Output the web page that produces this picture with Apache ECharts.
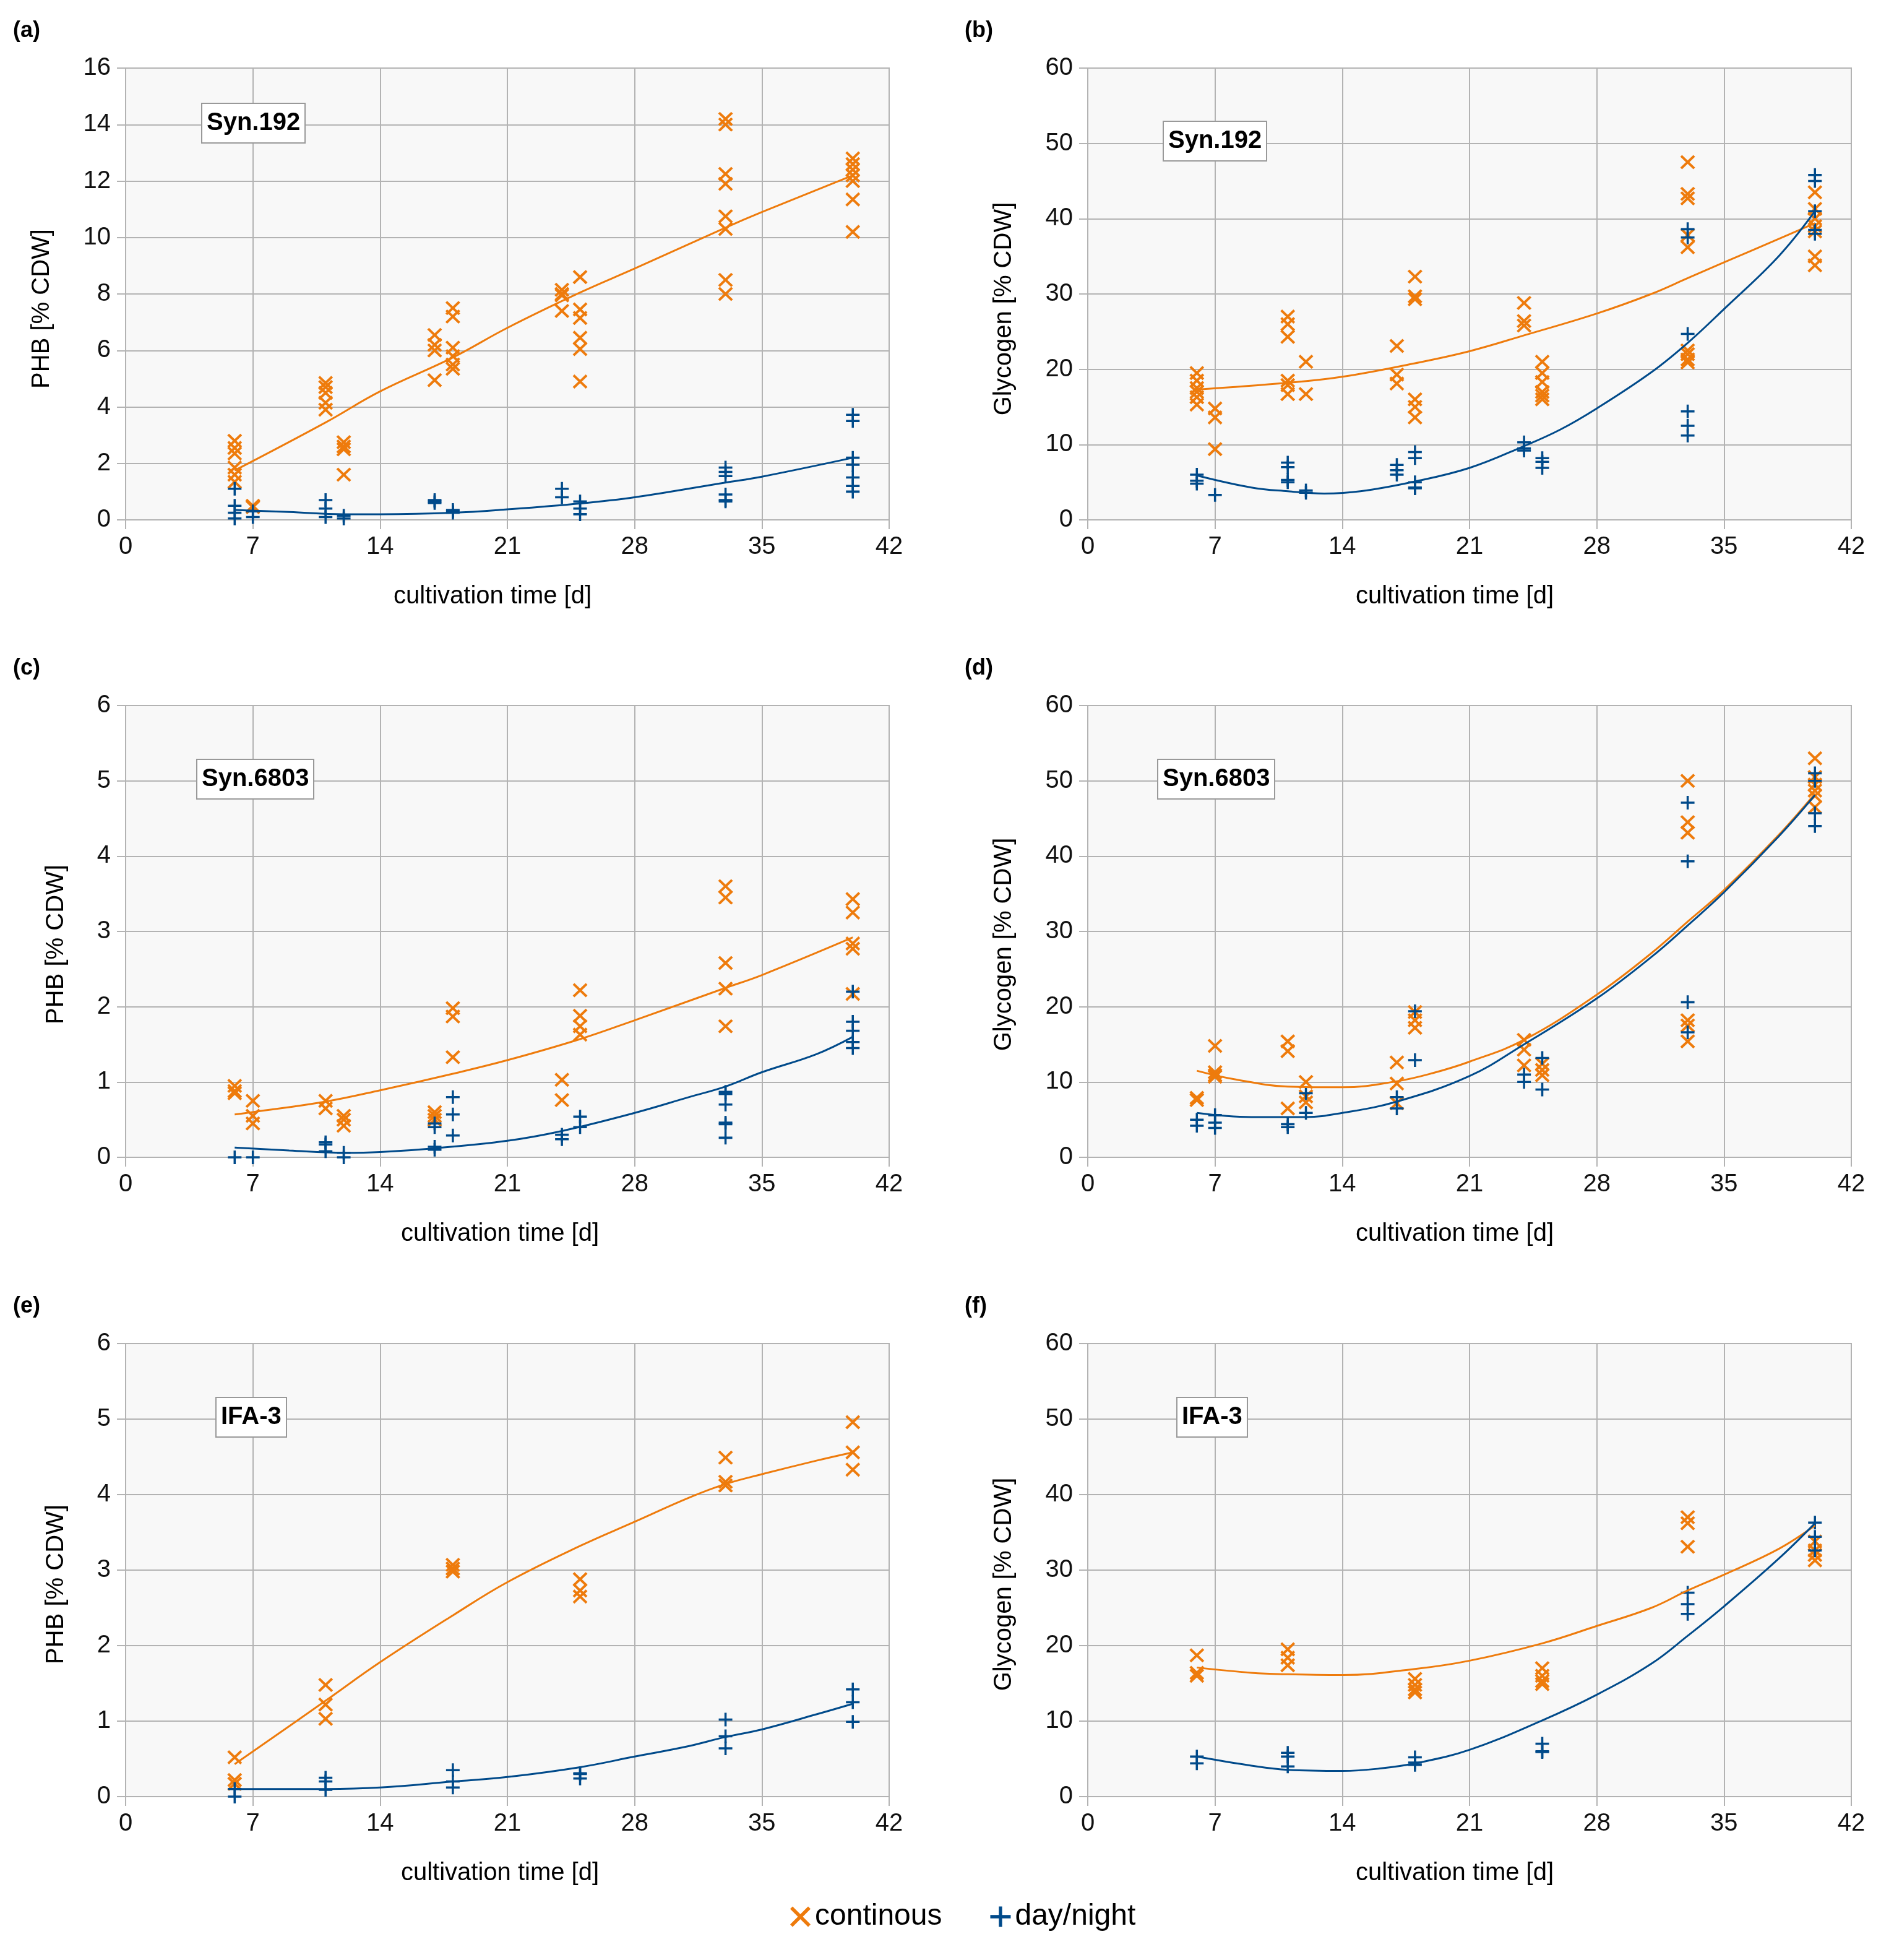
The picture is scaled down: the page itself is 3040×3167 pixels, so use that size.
<!DOCTYPE html>
<html>
<head>
<meta charset="utf-8">
<script src="https://cdn.jsdelivr.net/npm/echarts@6/dist/echarts.min.js"></script>
<style>
html,body{margin:0;padding:0;background:#fff;}
#chart{width:3040px;height:3167px;}
</style>
</head>
<body>
<div id="chart"></div>
<script>
// ---------- data ----------
const daysABCD = [6, 7, 11, 12, 17, 18, 24, 25, 33, 40];
const daysEF = [6, 11, 18, 25, 33, 40];

// (a) PHB Syn.192
const phbSyn192Cont = [[2.8,2.55,2.35,1.85,1.6,1.35],[0.5,0.45],[4.85,4.7,4.5,4.15,3.9],[2.75,2.6,2.5,1.6],[6.55,6.2,6.0,4.95],[7.5,7.2,6.1,5.8,5.5,5.35],[8.15,8.0,7.95,7.4],[8.6,7.45,7.15,6.45,6.05,4.9],[14.2,14.0,12.25,11.9,10.75,10.3,8.5,8.0],[12.8,12.6,12.4,12.2,12.0,11.35,10.2]];
const phbSyn192DN = [[1.1,0.5,0.25,0.05],[0.3,0.1],[0.7,0.4,0.1],[0.15,0.05],[0.7,0.65,0.6],[0.35,0.3,0.25],[1.1,0.8],[0.65,0.4,0.2],[1.85,1.7,1.55,0.9,0.7,0.65],[3.72,3.5,2.2,1.95,1.5,1.2,1.0]];
const trendPhbSyn192Cont = [[6,1.75],[11,3.45],[14,4.55],[18,5.75],[21,6.8],[25,8.05],[28,8.9],[33,10.35],[35,10.9],[40,12.2]];
const trendPhbSyn192DN = [[6,0.35],[9,0.28],[12,0.2],[14,0.2],[18,0.25],[21,0.37],[25,0.58],[28,0.8],[33,1.32],[35,1.53],[40,2.2]];

// (b) Glycogen Syn.192
const glySyn192Cont = [[19.5,18.5,17.5,17.0,16.3,15.3],[14.8,13.6,9.4],[27.0,26.0,24.3,18.5,17.9,16.7],[21.0,16.7],[23.1,19.3,18.1],[32.3,29.7,29.3,16.0,15.0,13.6],[28.8,26.4,25.8],[21.0,19.5,18.3,17.0,16.5,16.0],[47.5,43.3,42.7,37.8,36.2,22.5,22.0,21.3,20.9],[43.5,41.3,40.0,39.0,38.3,35.0,33.8]];
const glySyn192DN = [[6.0,5.2,4.8],[3.3],[7.6,7.0,5.3,5.0],[3.9,3.6],[7.3,6.6,6.0],[9.0,8.2,5.0,4.3,4.2],[10.3,9.5,9.2],[8.2,7.7,6.9],[38.6,37.5,24.7,14.4,12.5,11.2],[45.8,45.0,41.0,38.5,38.0]];
const trendGlySyn192Cont = [[6,17.3],[11,18.2],[14,19.0],[18,20.8],[21,22.4],[24,24.5],[28,27.4],[31,30.0],[33,32.1],[35,34.2],[38,37.3],[40,39.4]];
const trendGlySyn192DN = [[6,5.9],[9,4.3],[11,3.8],[13,3.5],[15,3.8],[18,5.1],[21,6.9],[24,9.8],[26,12.0],[28,14.8],[31,19.6],[33,23.5],[35,28.0],[38,35.0],[40,41.0]];

// (c) PHB Syn.6803
const phbSyn6803Cont = [[0.95,0.88,0.85],[0.75,0.55,0.45],[0.75,0.65],[0.55,0.5,0.42],[0.6,0.55,0.5],[1.98,1.87,1.33],[1.03,0.76],[2.22,1.88,1.74,1.63],[3.6,3.45,2.58,2.24,1.74],[3.43,3.25,2.84,2.77,2.17]];
const phbSyn6803DN = [[0.0],[0.0],[0.2,0.17,0.08],[0.06,0.0],[0.45,0.4,0.14,0.1],[0.8,0.57,0.29],[0.3,0.24],[0.54,0.4],[0.87,0.84,0.7,0.46,0.44,0.26],[2.2,1.8,1.68,1.53,1.45]];
const trendPhbSyn6803Cont = [[6,0.57],[7,0.6],[11,0.74],[14,0.89],[18,1.11],[21,1.29],[25,1.57],[28,1.82],[33,2.25],[35,2.42],[40,2.92]];
const trendPhbSyn6803DN = [[6,0.13],[9,0.09],[12,0.06],[14,0.07],[17,0.12],[21,0.22],[24,0.35],[28,0.59],[31,0.8],[33,0.94],[35,1.13],[38,1.37],[40,1.6]];

// (d) Glycogen Syn.6803
const glySyn6803Cont = [[7.9,7.6],[14.8,11.3,10.9,10.7],[15.4,14.1,6.5],[10.0,8.1,7.3],[12.6,9.8,7.2],[19.3,18.2,17.2],[15.6,14.3,12.2],[12.4,11.6,10.9],[50.0,44.5,43.1,18.2,17.5,15.4],[53.0,50.5,49.5,48.7,48.0,46.5]];
const glySyn6803DN = [[5.0,4.2],[5.6,4.6,3.9],[4.4,4.0],[8.5,5.9],[8.0,6.5],[19.4,12.9],[11.0,10.0],[13.2,9.0],[47.1,39.3,20.6,16.6],[51.0,50.0,45.7,44.0]];
const trendGlySyn6803Cont = [[6,11.5],[8,10.4],[11,9.4],[14,9.3],[17,10.1],[19,11.2],[21,12.7],[24,15.6],[28,21.6],[31,27.1],[33,31.3],[35,35.5],[38,42.8],[40,48.3]];
const trendGlySyn6803DN = [[6,5.9],[9,5.35],[12,5.35],[14,5.9],[17,7.4],[21,10.8],[24,15.0],[28,21.1],[31,26.6],[33,30.8],[35,35.2],[38,42.6],[40,48.1]];

// (e) PHB IFA-3
const phbIfaCont = [[0.52,0.22,0.17],[1.48,1.22,1.03],[3.07,3.02,2.98],[2.88,2.73,2.65],[4.49,4.17,4.12],[4.96,4.56,4.33]];
const phbIfaDN = [[0.1,0.0],[0.25,0.2,0.09],[0.35,0.2,0.12],[0.31,0.3,0.24],[1.02,0.8,0.64],[1.42,1.25,0.99]];
const trendPhbIfaCont = [[6,0.43],[11,1.27],[14,1.78],[18,2.4],[21,2.84],[25,3.32],[28,3.64],[31,3.96],[33,4.14],[35,4.27],[38,4.45],[40,4.56]];
const trendPhbIfaDN = [[6,0.1],[11,0.1],[14,0.12],[18,0.2],[21,0.26],[25,0.39],[28,0.53],[31,0.67],[33,0.79],[35,0.89],[38,1.09],[40,1.23]];

// (f) Glycogen IFA-3
const glyIfaCont = [[18.7,16.4,16.0],[19.5,18.4,17.4],[15.6,14.8,14.2,13.8],[17.0,16.0,15.3,14.9],[37.0,36.2,33.1],[33.8,32.6,32.0,31.3]];
const glyIfaDN = [[5.3,4.4],[5.8,5.3,4.0],[5.2,4.5,4.2],[7.0,6.0,5.9],[27.0,25.5,24.2],[36.3,34.4,32.6]];
const trendGlyIfaCont = [[6,17.1],[9,16.4],[11,16.2],[14,16.1],[18,16.9],[21,18.0],[25,20.3],[28,22.6],[31,25.0],[33,27.3],[35,29.4],[38,32.8],[40,35.9]];
const trendGlyIfaDN = [[6,5.3],[9,4.1],[11,3.55],[14,3.4],[16,3.7],[18,4.4],[21,6.2],[25,10.1],[28,13.5],[31,17.6],[33,21.3],[35,25.2],[38,31.5],[40,36.2]];

const xTicks = [0, 7, 14, 21, 28, 35, 42];
const panelLabels = ['(a)', '(b)', '(c)', '(d)', '(e)', '(f)'];
const strainLabels = ['Syn.192', 'Syn.192', 'Syn.6803', 'Syn.6803', 'IFA-3', 'IFA-3'];
const yNames = ['PHB [% CDW]', 'Glycogen [% CDW]', 'PHB [% CDW]', 'Glycogen [% CDW]', 'PHB [% CDW]', 'Glycogen [% CDW]'];
const xName = 'cultivation time [d]';
const legendNames = ['continous', 'day/night'];

// ---------- layout / style ----------
const ORANGE = '#ee7b0c';
const BLUE = '#004a8a';
const GRIDC = '#b3b3b3';
const FONT = '"Liberation Sans", Arial, sans-serif';
const X_PATH = 'path://M0,12L12,0L50,38L88,0L100,12L62,50L100,88L88,100L50,62L12,100L0,88L38,50Z';
const P_PATH = 'path://M42,0H58V42H100V58H58V100H42V58H0V42H42Z';

const panels = [
  {days: daysABCD, cont: phbSyn192Cont, dn: phbSyn192DN, tc: trendPhbSyn192Cont, td: trendPhbSyn192DN, ymax: 16, yint: 2},
  {days: daysABCD, cont: glySyn192Cont, dn: glySyn192DN, tc: trendGlySyn192Cont, td: trendGlySyn192DN, ymax: 60, yint: 10},
  {days: daysABCD, cont: phbSyn6803Cont, dn: phbSyn6803DN, tc: trendPhbSyn6803Cont, td: trendPhbSyn6803DN, ymax: 6, yint: 1},
  {days: daysABCD, cont: glySyn6803Cont, dn: glySyn6803DN, tc: trendGlySyn6803Cont, td: trendGlySyn6803DN, ymax: 60, yint: 10},
  {days: daysEF, cont: phbIfaCont, dn: phbIfaDN, tc: trendPhbIfaCont, td: trendPhbIfaDN, ymax: 6, yint: 1},
  {days: daysEF, cont: glyIfaCont, dn: glyIfaDN, tc: trendGlyIfaCont, td: trendGlyIfaDN, ymax: 60, yint: 10}
];

const colLeft = [203, 1758];
const rowTop = [110, 1140, 2171];
const rowH = [730, 730, 732];
const GW = 1234;
const yNameGap = [115, 115, 92, 115, 92, 115];
const xNameShift = [48, 48, 24, 48, 24, 48];
const yNameShift = [48, 48, 42, 42, 46, 46];
const labelPos = [[21, 32], [1559, 32], [21, 1062], [1559, 1062], [21, 2093], [1559, 2093]];
const boxPos = [[326, 167], [1880, 196], [318, 1227], [1871, 1227], [349, 2258], [1902, 2258]];

function flatten(days, groups) {
  const out = [];
  groups.forEach((g, i) => g.forEach(v => out.push([days[i], v])));
  return out;
}

const grids = [], xAxes = [], yAxes = [], series = [], titles = [];
panels.forEach((p, i) => {
  const col = i % 2, row = Math.floor(i / 2);
  grids.push({left: colLeft[col], top: rowTop[row], width: GW, height: rowH[row],
    show: true, backgroundColor: '#f8f8f8', borderColor: GRIDC, borderWidth: 2});
  xAxes.push({gridIndex: i, type: 'value', min: xTicks[0], max: xTicks[xTicks.length - 1], interval: 7,
    name: xName, nameLocation: 'middle', nameGap: 104,
    nameTextStyle: {fontSize: 40, color: '#000', fontFamily: FONT, padding: [0, xNameShift[i], 0, 0]},
    axisLine: {show: true, onZero: false, lineStyle: {color: GRIDC, width: 2}},
    axisTick: {show: true, length: 15, lineStyle: {color: GRIDC, width: 2}},
    axisLabel: {fontSize: 40, color: '#111', margin: 24, fontFamily: FONT},
    splitLine: {show: true, lineStyle: {color: GRIDC, width: 2}}});
  yAxes.push({gridIndex: i, type: 'value', min: 0, max: p.ymax, interval: p.yint,
    name: yNames[i], nameLocation: 'middle', nameGap: yNameGap[i],
    nameTextStyle: {fontSize: 40, color: '#000', fontFamily: FONT, padding: [0, yNameShift[i], 0, 0]},
    axisLine: {show: true, lineStyle: {color: GRIDC, width: 2}},
    axisTick: {show: true, length: 14, lineStyle: {color: GRIDC, width: 2}},
    axisLabel: {fontSize: 40, color: '#111', margin: 24, fontFamily: FONT},
    splitLine: {show: true, lineStyle: {color: GRIDC, width: 2}}});
  series.push({type: 'scatter', name: legendNames[0], xAxisIndex: i, yAxisIndex: i,
    data: flatten(p.days, p.cont), symbol: X_PATH, symbolSize: [24, 23],
    itemStyle: {color: ORANGE, opacity: 1}, z: 3});
  series.push({type: 'scatter', name: legendNames[1], xAxisIndex: i, yAxisIndex: i,
    data: flatten(p.days, p.dn), symbol: P_PATH, symbolSize: [22, 22],
    itemStyle: {color: BLUE, opacity: 1}, z: 3});
  series.push({type: 'line', name: 'trend continous', xAxisIndex: i, yAxisIndex: i,
    data: p.tc, smooth: 0.4, showSymbol: false, lineStyle: {color: ORANGE, width: 3}, z: 4});
  series.push({type: 'line', name: 'trend day/night', xAxisIndex: i, yAxisIndex: i,
    data: p.td, smooth: 0.4, showSymbol: false, lineStyle: {color: BLUE, width: 3}, z: 4});
  titles.push({text: panelLabels[i], left: labelPos[i][0], top: labelPos[i][1], padding: 0,
    textStyle: {fontSize: 36, fontWeight: 'bold', color: '#000', fontFamily: FONT}});
  titles.push({text: strainLabels[i], left: boxPos[i][0], top: boxPos[i][1], padding: [12, 8],
    backgroundColor: '#ffffff', borderColor: '#999999', borderWidth: 2,
    textStyle: {fontSize: 40, fontWeight: 'bold', color: '#000', fontFamily: FONT}});
});

const chart = echarts.init(document.getElementById('chart'), null, {renderer: 'canvas'});
chart.setOption({
  animation: false,
  backgroundColor: '#ffffff',
  title: titles,
  grid: grids,
  xAxis: xAxes,
  yAxis: yAxes,
  legend: {
    data: [{name: legendNames[0], icon: X_PATH}, {name: legendNames[1], icon: P_PATH}],
    left: 1272, top: 3068, itemWidth: 33, itemHeight: 36, itemGap: 78,
    selectedMode: false,
    textStyle: {fontSize: 48, color: '#000', fontFamily: FONT, padding: [0, 0, 0, 2]}
  },
  series: series
});
</script>
</body>
</html>
